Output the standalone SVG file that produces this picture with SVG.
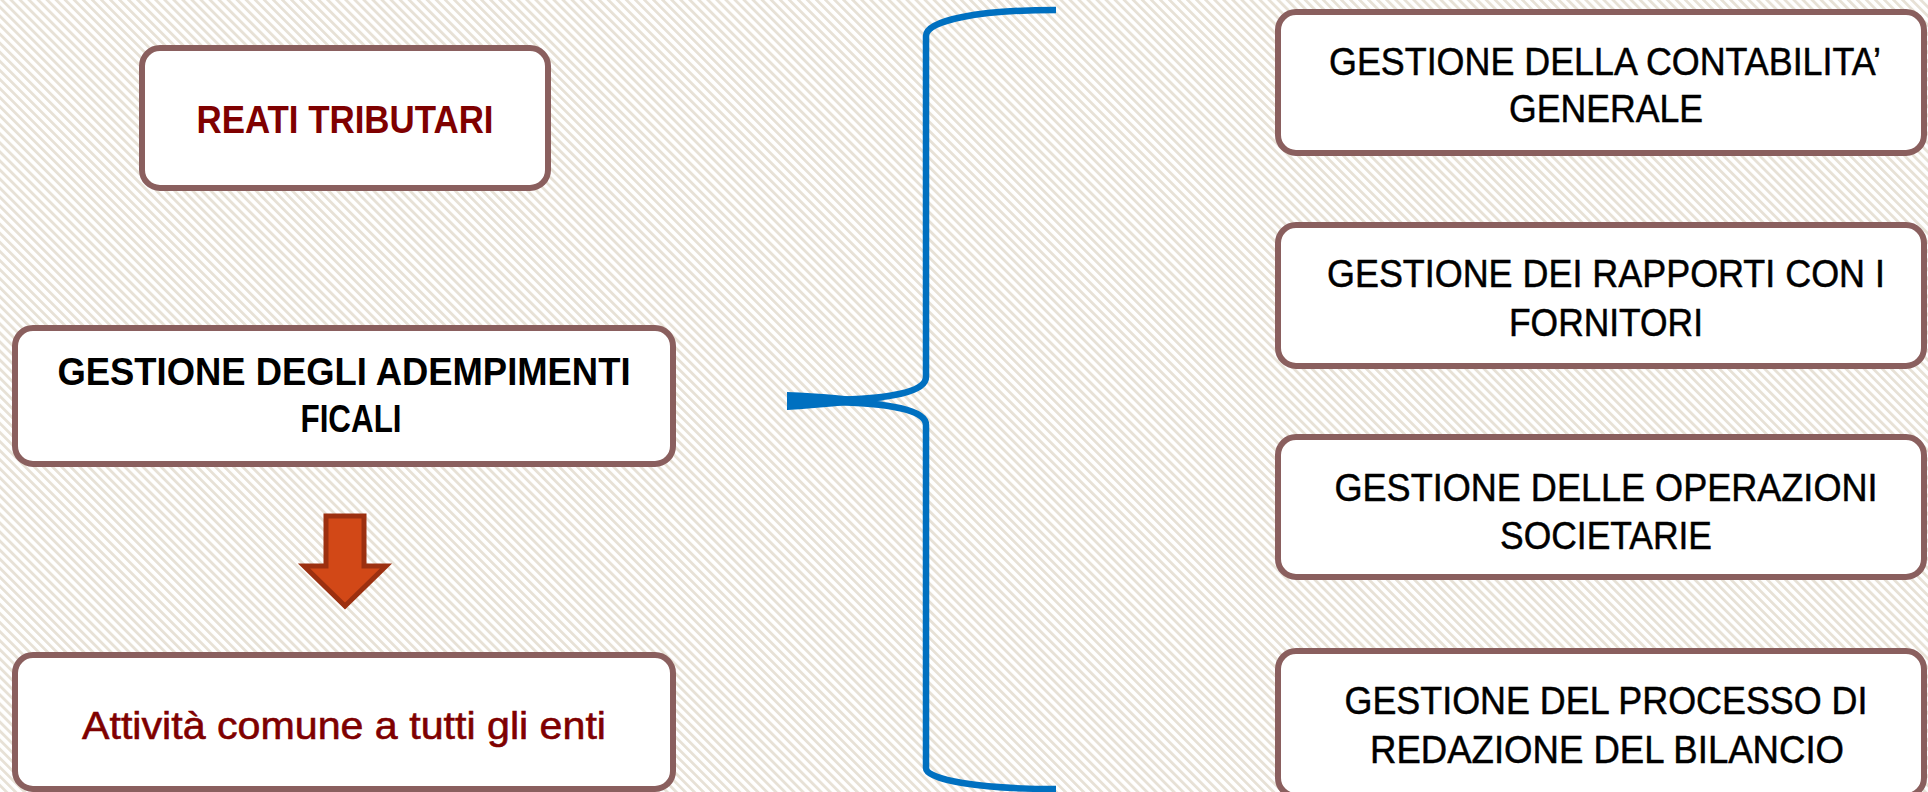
<svg xmlns="http://www.w3.org/2000/svg" width="1928" height="792" viewBox="0 0 1928 792">
<defs>
<pattern id="stripes" patternUnits="userSpaceOnUse" width="6.4" height="6.4" patternTransform="rotate(-45)">
<rect width="6.4" height="6.4" fill="#FFFFFF"/>
<rect width="2.8" height="6.4" fill="#E7E1D6"/>
</pattern>
<style>
.box{fill:#FFFFFF;stroke:#8A5F5E;stroke-width:6}
.t{font-family:"Liberation Sans Narrow","Liberation Sans",Arial,sans-serif;font-size:39px;text-anchor:middle}
.r{stroke:#000000;stroke-width:0.5}
.red{fill:#7F0000}
.blk{fill:#000000}
.med{font-weight:bold}
.brace{fill:none;stroke:#0070C0;stroke-width:6.5}
</style>
</defs>
<rect width="1928" height="792" fill="url(#stripes)"/>

<g id="connectors">
<path class="brace" d="M1056,10 C980,10 926,20 926,36 L926,377 C926,392 890,399 830,400"/>
<path class="brace" d="M830,402 C890,403 926,410 926,425 L926,768 C926,780 980,789 1056,789"/>
<path d="M787,392 C820,393 850,396 885,401 C850,405 820,408 787,410 Z" fill="#0070C0"/>
</g>

<g id="node-reati">
<rect class="box" x="142" y="48" width="406" height="140" rx="18"/>
<text class="t red med" x="345" y="133" textLength="297" lengthAdjust="spacingAndGlyphs">REATI TRIBUTARI</text>
</g>

<g id="node-adempimenti">
<rect class="box" x="15" y="328" width="658" height="136" rx="18"/>
<text class="t blk med" x="344" y="385" textLength="573" lengthAdjust="spacingAndGlyphs">GESTIONE DEGLI ADEMPIMENTI</text>
<text class="t blk med" x="351" y="432" textLength="101" lengthAdjust="spacingAndGlyphs">FICALI</text>
</g>

<g id="arrow-down">
<path d="M326,516 L364,516 L364,566 L386,566 L345,606 L304,566 L326,566 Z" fill="#D24817" stroke="#9C3010" stroke-width="5" stroke-linejoin="miter"/>
</g>

<g id="node-attivita">
<rect class="box" x="15" y="655" width="658" height="134" rx="18"/>
<text class="t red" x="344" y="739" textLength="524" lengthAdjust="spacingAndGlyphs" style="stroke:#7F0000;stroke-width:0.6">Attività comune a tutti gli enti</text>
</g>

<g id="node-contabilita">
<rect class="box" x="1278" y="12" width="646" height="141" rx="18"/>
<text class="t blk r" x="1605" y="75" textLength="552" lengthAdjust="spacingAndGlyphs">GESTIONE DELLA CONTABILITA’</text>
<text class="t blk r" x="1606" y="122" textLength="194" lengthAdjust="spacingAndGlyphs">GENERALE</text>
</g>

<g id="node-fornitori">
<rect class="box" x="1278" y="225" width="646" height="141" rx="18"/>
<text class="t blk r" x="1606" y="287" textLength="558" lengthAdjust="spacingAndGlyphs">GESTIONE DEI RAPPORTI CON I</text>
<text class="t blk r" x="1606" y="336" textLength="194" lengthAdjust="spacingAndGlyphs">FORNITORI</text>
</g>

<g id="node-societarie">
<rect class="box" x="1278" y="437" width="646" height="140" rx="18"/>
<text class="t blk r" x="1606" y="501" textLength="543" lengthAdjust="spacingAndGlyphs">GESTIONE DELLE OPERAZIONI</text>
<text class="t blk r" x="1606" y="549" textLength="212" lengthAdjust="spacingAndGlyphs">SOCIETARIE</text>
</g>

<g id="node-bilancio">
<rect class="box" x="1278" y="651" width="646" height="145" rx="18"/>
<text class="t blk r" x="1606" y="714" textLength="523" lengthAdjust="spacingAndGlyphs">GESTIONE DEL PROCESSO DI</text>
<text class="t blk r" x="1607" y="763" textLength="474" lengthAdjust="spacingAndGlyphs">REDAZIONE DEL BILANCIO</text>
</g>
</svg>
